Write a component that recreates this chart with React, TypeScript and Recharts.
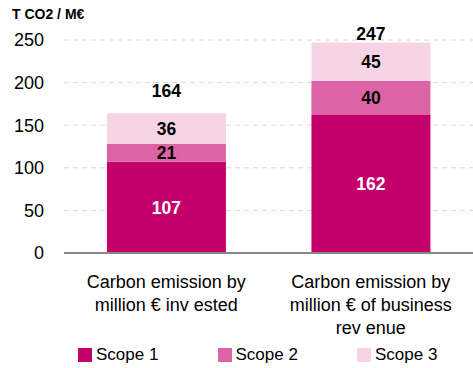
import * as React from 'react';
import { BarChart, Bar, XAxis, YAxis, CartesianGrid, LabelList, Legend } from 'recharts';

const categories = [
  ['Carbon emission by', 'million € inv ested'],
  ['Carbon emission by', 'million € of business', 'rev enue'],
];
const scope1 = [107, 162];
const scope2 = [21, 40];
const scope3 = [36, 45];
const totals = [164, 247];
const yTicks = [0, 50, 100, 150, 200, 250];

const seriesNames = ['Scope 1', 'Scope 2', 'Scope 3'];
const colors = ['#C3006B', '#DC64A6', '#F6D4E6'];

const data = categories.map((lines, i) => ({
  name: lines.join(' '),
  lines,
  s1: scope1[i],
  s2: scope2[i],
  s3: scope3[i],
  total: totals[i],
}));

const FONT = '"Liberation Sans", Arial, sans-serif';
const LABEL_SIZE = 17.5;

const CategoryTick = (props: any) => {
  const { x, y, payload, index } = props;
  const lines = categories[index] ?? [payload.value];
  return (
    <g>
      {lines.map((l: string, i: number) => (
        <text key={i} x={x} y={y + 27 + i * 23} textAnchor="middle" fontSize={18} fontFamily={FONT} fill="#000">
          {l}
        </text>
      ))}
    </g>
  );
};

// total label above the stack; excel put the first one a bit higher
const TotalLabel = (props: any) => {
  const { x, y, width, index, value } = props;
  const gap = index === 0 ? 16 : 3;
  return (
    <text x={x + width / 2} y={y - gap} textAnchor="middle" fontSize={LABEL_SIZE} fontWeight="bold" fontFamily={FONT} fill="#000">
      {value}
    </text>
  );
};

const LegendBox = () => (
  <div style={{ position: 'relative', height: 20, fontFamily: FONT, fontSize: 17 }}>
    {seriesNames.map((n, i) => (
      <div key={n} style={{ position: 'absolute', left: 78 + i * 139.5, top: 0, display: 'flex', alignItems: 'center' }}>
        <span style={{ display: 'inline-block', width: 14, height: 14, background: colors[i], marginRight: 4 }} />
        <span style={{ lineHeight: '20px' }}>{n}</span>
      </div>
    ))}
  </div>
);

export default function App() {
  return (
    <div style={{ position: 'absolute', left: 0, top: 0, width: 473, height: 368, background: '#fff' }}>
      <div style={{ position: 'absolute', left: 12, top: 6, fontFamily: FONT, fontWeight: 'bold', fontSize: 14, zIndex: 2 }}>
        T CO2 / M€
      </div>
      <BarChart width={473} height={368} data={data} margin={{ top: 40, right: 0, left: 0, bottom: 0 }} barCategoryGap="21%">
        <CartesianGrid vertical={false} stroke="#D9D9D9" strokeDasharray="5 4" />
        <YAxis
          width={64}
          domain={[0, 250]}
          ticks={yTicks}
          axisLine={false}
          tickLine={false}
          tickMargin={14}
          tick={{ fontSize: 18, fill: '#000', fontFamily: FONT }}
        />
        <XAxis dataKey="name" height={115} axisLine={{ stroke: '#888', strokeWidth: 2 }} tickLine={false} tick={<CategoryTick />} interval={0} />
        <Legend
          layout="horizontal"
          verticalAlign="middle"
          wrapperStyle={{ position: 'absolute', top: 345, left: 0, width: 473 }}
          content={<LegendBox />}
        />
        <Bar dataKey="s1" name={seriesNames[0]} stackId="a" fill={colors[0]} isAnimationActive={false}>
          <LabelList dataKey="s1" position="center" fill="#fff" fontSize={LABEL_SIZE} fontWeight="bold" fontFamily={FONT} />
        </Bar>
        <Bar dataKey="s2" name={seriesNames[1]} stackId="a" fill={colors[1]} isAnimationActive={false}>
          <LabelList dataKey="s2" position="center" fill="#000" fontSize={LABEL_SIZE} fontWeight="bold" fontFamily={FONT} />
        </Bar>
        <Bar dataKey="s3" name={seriesNames[2]} stackId="a" fill={colors[2]} isAnimationActive={false}>
          <LabelList dataKey="s3" position="center" fill="#000" fontSize={LABEL_SIZE} fontWeight="bold" fontFamily={FONT} />
          <LabelList dataKey="total" content={<TotalLabel />} />
        </Bar>
      </BarChart>
    </div>
  );
}
